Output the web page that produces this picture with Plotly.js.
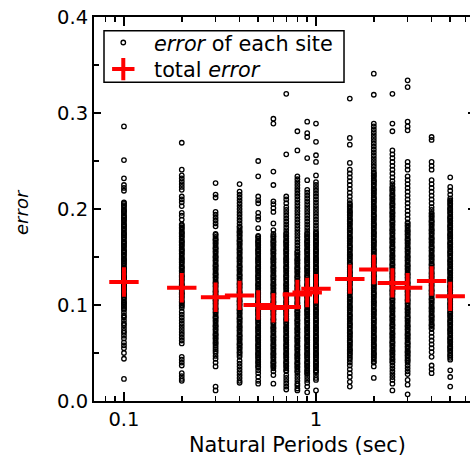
<!DOCTYPE html>
<html>
<head>
<meta charset="utf-8">
<script src="https://cdn.plot.ly/plotly-3.0.1.min.js"></script>
<style>
html,body{margin:0;padding:0;overflow:hidden;background:#fff;}
#chart{width:477px;height:459px;}
</style>
</head>
<body>
<div id="chart"></div>
<script>
// ---- DATA ----
const periods = [0.1, 0.2, 0.3, 0.4, 0.5, 0.6, 0.7, 0.8, 0.9, 1.0, 1.5, 2.0, 2.5, 3.0, 4.0, 5.0];
const totalError = [0.124, 0.118, 0.108, 0.110, 0.100, 0.097, 0.098, 0.111, 0.113, 0.117, 0.127, 0.137, 0.123, 0.118, 0.125, 0.109];

const site_p010 = [0.286,0.251,0.232,0.225,0.222,0.219,0.207,0.206,0.204,0.203,0.201,0.199,0.198,0.197,0.195,0.193,0.192,0.191,0.189,0.188,0.186,0.184,0.183,0.182,0.180,0.179,0.177,0.175,0.174,0.173,0.171,0.170,0.168,0.166,0.165,0.164,0.162,0.161,0.159,0.157,0.156,0.155,0.153,0.152,0.150,0.148,0.147,0.146,0.144,0.143,0.141,0.139,0.138,0.137,0.135,0.134,0.132,0.130,0.129,0.128,0.126,0.125,0.123,0.121,0.120,0.119,0.117,0.116,0.114,0.112,0.111,0.110,0.108,0.107,0.105,0.103,0.102,0.101,0.099,0.098,0.096,0.095,0.092,0.089,0.087,0.084,0.081,0.079,0.076,0.073,0.071,0.068,0.065,0.061,0.058,0.055,0.050,0.044,0.023];
const site_p020 = [0.269,0.241,0.235,0.232,0.229,0.226,0.223,0.220,0.213,0.210,0.207,0.203,0.196,0.193,0.189,0.184,0.183,0.181,0.180,0.178,0.176,0.175,0.174,0.172,0.171,0.169,0.167,0.166,0.165,0.163,0.162,0.160,0.158,0.157,0.156,0.154,0.153,0.151,0.149,0.148,0.147,0.145,0.144,0.142,0.140,0.139,0.138,0.136,0.135,0.133,0.131,0.130,0.129,0.127,0.126,0.124,0.122,0.121,0.120,0.118,0.117,0.115,0.113,0.112,0.111,0.109,0.108,0.106,0.104,0.103,0.102,0.100,0.099,0.097,0.093,0.090,0.087,0.084,0.081,0.078,0.075,0.072,0.069,0.066,0.063,0.060,0.046,0.043,0.040,0.037,0.029,0.026,0.023,0.021];
const site_p030 = [0.227,0.215,0.212,0.197,0.194,0.191,0.188,0.185,0.182,0.174,0.173,0.171,0.169,0.168,0.167,0.165,0.164,0.162,0.160,0.159,0.158,0.156,0.155,0.153,0.151,0.150,0.149,0.147,0.146,0.144,0.142,0.141,0.140,0.138,0.137,0.135,0.133,0.132,0.131,0.129,0.128,0.126,0.124,0.123,0.122,0.120,0.119,0.117,0.115,0.114,0.113,0.111,0.110,0.108,0.106,0.105,0.104,0.102,0.101,0.099,0.097,0.096,0.095,0.093,0.092,0.090,0.088,0.087,0.086,0.084,0.083,0.081,0.079,0.078,0.077,0.075,0.074,0.072,0.070,0.069,0.068,0.066,0.065,0.063,0.061,0.060,0.058,0.056,0.054,0.052,0.050,0.047,0.044,0.040,0.036,0.015,0.011];
const site_p040 = [0.226,0.218,0.215,0.212,0.209,0.206,0.203,0.200,0.197,0.194,0.191,0.188,0.185,0.182,0.181,0.179,0.177,0.176,0.175,0.173,0.172,0.170,0.168,0.167,0.166,0.164,0.163,0.161,0.159,0.158,0.157,0.155,0.154,0.152,0.150,0.149,0.148,0.146,0.145,0.143,0.141,0.140,0.139,0.137,0.136,0.134,0.132,0.131,0.130,0.128,0.127,0.125,0.123,0.122,0.121,0.119,0.118,0.116,0.114,0.113,0.112,0.110,0.109,0.107,0.105,0.104,0.103,0.101,0.100,0.098,0.096,0.095,0.094,0.092,0.091,0.089,0.087,0.086,0.085,0.083,0.082,0.080,0.078,0.077,0.076,0.074,0.073,0.071,0.069,0.068,0.067,0.065,0.064,0.062,0.060,0.059,0.058,0.056,0.055,0.053,0.051,0.050,0.048,0.046,0.042,0.039,0.036,0.033,0.030,0.027,0.024,0.021,0.019];
const site_p050 = [0.250,0.234,0.213,0.209,0.206,0.196,0.192,0.189,0.180,0.172,0.171,0.169,0.167,0.166,0.165,0.163,0.162,0.160,0.158,0.157,0.156,0.154,0.153,0.151,0.149,0.148,0.147,0.145,0.144,0.142,0.140,0.139,0.138,0.136,0.135,0.133,0.131,0.130,0.129,0.127,0.126,0.124,0.122,0.121,0.120,0.118,0.117,0.115,0.113,0.112,0.111,0.109,0.108,0.106,0.104,0.103,0.102,0.100,0.099,0.097,0.095,0.094,0.093,0.091,0.090,0.088,0.086,0.085,0.084,0.082,0.081,0.079,0.077,0.076,0.075,0.073,0.072,0.070,0.068,0.067,0.066,0.064,0.063,0.061,0.059,0.058,0.057,0.055,0.054,0.052,0.050,0.049,0.048,0.046,0.045,0.043,0.041,0.040,0.038,0.036,0.035,0.032,0.029,0.025,0.021,0.018];
const site_p060 = [0.294,0.289,0.239,0.225,0.208,0.205,0.201,0.197,0.185,0.178,0.174,0.172,0.171,0.169,0.167,0.166,0.165,0.163,0.162,0.160,0.158,0.157,0.156,0.154,0.153,0.151,0.149,0.148,0.147,0.145,0.144,0.142,0.140,0.139,0.138,0.136,0.135,0.133,0.131,0.130,0.129,0.127,0.126,0.124,0.122,0.121,0.120,0.118,0.117,0.115,0.113,0.112,0.111,0.109,0.108,0.106,0.104,0.103,0.102,0.100,0.099,0.097,0.095,0.094,0.093,0.091,0.090,0.088,0.086,0.085,0.084,0.082,0.081,0.079,0.077,0.076,0.075,0.073,0.072,0.070,0.068,0.067,0.066,0.064,0.063,0.061,0.059,0.058,0.057,0.055,0.054,0.052,0.050,0.049,0.048,0.046,0.045,0.043,0.041,0.040,0.039,0.037,0.036,0.034,0.031,0.027,0.018];
const site_p070 = [0.320,0.257,0.213,0.210,0.206,0.202,0.199,0.196,0.193,0.190,0.187,0.184,0.181,0.178,0.175,0.174,0.172,0.171,0.169,0.167,0.166,0.165,0.163,0.162,0.160,0.158,0.157,0.156,0.154,0.153,0.151,0.149,0.148,0.147,0.145,0.144,0.142,0.140,0.139,0.138,0.136,0.135,0.133,0.131,0.130,0.129,0.127,0.126,0.124,0.122,0.121,0.120,0.118,0.117,0.115,0.113,0.112,0.111,0.109,0.108,0.106,0.104,0.103,0.102,0.100,0.099,0.097,0.095,0.094,0.093,0.091,0.090,0.088,0.086,0.085,0.084,0.082,0.081,0.079,0.077,0.076,0.075,0.073,0.072,0.070,0.068,0.067,0.066,0.064,0.063,0.061,0.059,0.058,0.057,0.055,0.054,0.052,0.050,0.049,0.048,0.046,0.045,0.043,0.041,0.040,0.039,0.037,0.036,0.034,0.032,0.031,0.027,0.024,0.021,0.018,0.015,0.012];
const site_p080 = [0.281,0.261,0.234,0.231,0.228,0.225,0.222,0.219,0.216,0.213,0.210,0.207,0.204,0.201,0.198,0.195,0.192,0.189,0.186,0.183,0.180,0.177,0.174,0.171,0.168,0.165,0.162,0.159,0.156,0.155,0.153,0.152,0.150,0.148,0.147,0.146,0.144,0.143,0.141,0.139,0.138,0.137,0.135,0.134,0.132,0.130,0.129,0.128,0.126,0.125,0.123,0.121,0.120,0.119,0.117,0.116,0.114,0.112,0.111,0.110,0.108,0.107,0.105,0.103,0.102,0.101,0.099,0.098,0.096,0.094,0.093,0.092,0.090,0.089,0.087,0.085,0.084,0.083,0.081,0.080,0.078,0.076,0.075,0.074,0.072,0.071,0.069,0.067,0.066,0.065,0.063,0.062,0.060,0.058,0.057,0.056,0.054,0.053,0.051,0.049,0.048,0.047,0.045,0.044,0.042,0.040,0.039,0.038,0.036,0.035,0.033,0.031,0.030,0.027,0.024,0.021,0.018,0.016,0.013,0.011];
const site_p090 = [0.291,0.279,0.275,0.253,0.230,0.220,0.217,0.214,0.211,0.208,0.205,0.202,0.199,0.196,0.193,0.190,0.187,0.184,0.181,0.178,0.175,0.174,0.172,0.171,0.169,0.167,0.166,0.165,0.163,0.162,0.160,0.158,0.157,0.156,0.154,0.153,0.151,0.149,0.148,0.147,0.145,0.144,0.142,0.140,0.139,0.138,0.136,0.135,0.133,0.131,0.130,0.129,0.127,0.126,0.124,0.122,0.121,0.120,0.118,0.117,0.115,0.113,0.112,0.111,0.109,0.108,0.106,0.104,0.103,0.102,0.100,0.099,0.097,0.095,0.094,0.093,0.091,0.090,0.088,0.086,0.085,0.084,0.082,0.081,0.079,0.077,0.076,0.075,0.073,0.072,0.070,0.068,0.067,0.066,0.064,0.063,0.061,0.059,0.058,0.057,0.055,0.054,0.052,0.050,0.049,0.048,0.046,0.045,0.043,0.041,0.040,0.039,0.037,0.036,0.034,0.032,0.031,0.029,0.028,0.025,0.022,0.019,0.015,0.009];
const site_p100 = [0.289,0.270,0.256,0.249,0.235,0.228,0.225,0.222,0.219,0.216,0.213,0.210,0.207,0.204,0.201,0.198,0.195,0.192,0.189,0.186,0.183,0.180,0.177,0.175,0.174,0.172,0.171,0.169,0.167,0.166,0.165,0.163,0.162,0.160,0.158,0.157,0.156,0.154,0.153,0.151,0.149,0.148,0.147,0.145,0.144,0.142,0.140,0.139,0.138,0.136,0.135,0.133,0.131,0.130,0.129,0.127,0.126,0.124,0.122,0.121,0.120,0.118,0.117,0.115,0.113,0.112,0.111,0.109,0.108,0.106,0.104,0.103,0.102,0.100,0.099,0.097,0.095,0.094,0.093,0.091,0.090,0.088,0.086,0.085,0.084,0.082,0.081,0.079,0.077,0.076,0.075,0.073,0.072,0.070,0.068,0.067,0.066,0.064,0.063,0.061,0.059,0.058,0.057,0.055,0.054,0.052,0.050,0.049,0.048,0.046,0.045,0.043,0.041,0.040,0.039,0.037,0.036,0.034,0.032,0.031,0.030,0.027,0.024,0.022,0.011];
const site_p150 = [0.315,0.274,0.267,0.248,0.241,0.237,0.233,0.229,0.225,0.221,0.217,0.213,0.209,0.206,0.205,0.203,0.202,0.200,0.198,0.197,0.196,0.194,0.193,0.191,0.189,0.188,0.187,0.185,0.184,0.182,0.180,0.179,0.178,0.176,0.175,0.173,0.171,0.170,0.169,0.167,0.166,0.164,0.162,0.161,0.160,0.158,0.157,0.155,0.153,0.152,0.151,0.149,0.148,0.146,0.144,0.143,0.142,0.140,0.139,0.137,0.135,0.134,0.133,0.131,0.130,0.128,0.126,0.125,0.124,0.122,0.121,0.119,0.117,0.116,0.115,0.113,0.112,0.110,0.108,0.107,0.106,0.104,0.103,0.101,0.099,0.098,0.097,0.095,0.094,0.092,0.090,0.089,0.088,0.086,0.085,0.083,0.081,0.080,0.079,0.077,0.076,0.074,0.072,0.071,0.070,0.068,0.067,0.065,0.063,0.062,0.061,0.059,0.058,0.056,0.054,0.053,0.052,0.050,0.049,0.047,0.045,0.043,0.040,0.037,0.033,0.029,0.025,0.020,0.015];
const site_p200 = [0.341,0.319,0.289,0.286,0.283,0.280,0.277,0.274,0.271,0.268,0.265,0.262,0.259,0.256,0.253,0.250,0.247,0.244,0.241,0.238,0.237,0.235,0.234,0.232,0.230,0.229,0.228,0.226,0.225,0.223,0.221,0.220,0.219,0.217,0.216,0.214,0.212,0.211,0.210,0.208,0.207,0.205,0.203,0.202,0.201,0.199,0.198,0.196,0.194,0.193,0.192,0.190,0.189,0.187,0.185,0.184,0.183,0.181,0.180,0.178,0.176,0.175,0.174,0.172,0.171,0.169,0.167,0.166,0.165,0.163,0.162,0.160,0.158,0.157,0.156,0.154,0.153,0.151,0.149,0.148,0.147,0.145,0.144,0.142,0.140,0.139,0.138,0.136,0.135,0.133,0.131,0.130,0.129,0.127,0.126,0.124,0.122,0.121,0.120,0.118,0.117,0.115,0.113,0.112,0.111,0.109,0.108,0.106,0.104,0.103,0.102,0.100,0.099,0.097,0.095,0.094,0.093,0.091,0.090,0.088,0.086,0.085,0.084,0.082,0.081,0.079,0.077,0.076,0.075,0.073,0.072,0.070,0.068,0.067,0.066,0.064,0.063,0.061,0.059,0.058,0.057,0.055,0.054,0.052,0.050,0.049,0.048,0.046,0.045,0.043,0.041,0.040,0.036,0.024];
const site_p250 = [0.320,0.289,0.281,0.261,0.257,0.253,0.249,0.245,0.241,0.237,0.233,0.229,0.226,0.223,0.222,0.220,0.219,0.217,0.215,0.214,0.213,0.211,0.210,0.208,0.206,0.205,0.204,0.202,0.201,0.199,0.197,0.196,0.195,0.193,0.192,0.190,0.188,0.187,0.186,0.184,0.183,0.181,0.179,0.178,0.177,0.175,0.174,0.172,0.170,0.169,0.168,0.166,0.165,0.163,0.161,0.160,0.159,0.157,0.156,0.154,0.152,0.151,0.150,0.148,0.147,0.145,0.143,0.142,0.141,0.139,0.138,0.136,0.134,0.133,0.132,0.130,0.129,0.127,0.125,0.124,0.123,0.121,0.120,0.118,0.116,0.115,0.114,0.112,0.111,0.109,0.107,0.106,0.105,0.103,0.102,0.100,0.098,0.097,0.096,0.094,0.093,0.091,0.089,0.088,0.087,0.085,0.084,0.082,0.080,0.079,0.078,0.076,0.075,0.073,0.071,0.070,0.069,0.067,0.066,0.064,0.062,0.061,0.060,0.058,0.057,0.055,0.053,0.052,0.051,0.049,0.048,0.046,0.044,0.043,0.041,0.040,0.037,0.034,0.031,0.028,0.025,0.022,0.018,0.011];
const site_p300 = [0.334,0.327,0.291,0.286,0.282,0.249,0.245,0.241,0.234,0.230,0.226,0.222,0.218,0.214,0.210,0.206,0.202,0.198,0.194,0.190,0.186,0.185,0.183,0.182,0.180,0.178,0.177,0.176,0.174,0.173,0.171,0.169,0.168,0.167,0.165,0.164,0.162,0.160,0.159,0.158,0.156,0.155,0.153,0.151,0.150,0.149,0.147,0.146,0.144,0.142,0.141,0.140,0.138,0.137,0.135,0.133,0.132,0.131,0.129,0.128,0.126,0.124,0.123,0.122,0.120,0.119,0.117,0.115,0.114,0.113,0.111,0.110,0.108,0.106,0.105,0.104,0.102,0.101,0.099,0.097,0.096,0.095,0.093,0.092,0.090,0.088,0.087,0.086,0.084,0.083,0.081,0.079,0.078,0.077,0.075,0.074,0.072,0.070,0.069,0.068,0.066,0.065,0.063,0.061,0.060,0.059,0.057,0.056,0.054,0.052,0.051,0.050,0.048,0.047,0.045,0.043,0.042,0.040,0.037,0.034,0.031,0.028,0.022,0.017,0.007];
const site_p400 = [0.275,0.272,0.249,0.245,0.241,0.230,0.226,0.222,0.218,0.214,0.210,0.206,0.202,0.199,0.196,0.195,0.193,0.192,0.190,0.188,0.187,0.186,0.184,0.183,0.181,0.179,0.178,0.177,0.175,0.174,0.172,0.170,0.169,0.168,0.166,0.165,0.163,0.161,0.160,0.159,0.157,0.156,0.154,0.152,0.151,0.150,0.148,0.147,0.145,0.143,0.142,0.141,0.139,0.138,0.136,0.134,0.133,0.132,0.130,0.129,0.127,0.125,0.124,0.123,0.121,0.120,0.118,0.116,0.115,0.114,0.112,0.111,0.109,0.107,0.106,0.105,0.103,0.102,0.100,0.098,0.097,0.096,0.094,0.093,0.091,0.089,0.088,0.087,0.085,0.084,0.082,0.080,0.079,0.078,0.076,0.075,0.071,0.067,0.063,0.059,0.055,0.051,0.046,0.037,0.033,0.029];
const site_p500 = [0.233,0.223,0.219,0.215,0.211,0.209,0.208,0.206,0.205,0.203,0.201,0.200,0.199,0.197,0.196,0.194,0.192,0.191,0.190,0.188,0.187,0.185,0.183,0.182,0.181,0.179,0.178,0.176,0.174,0.173,0.172,0.170,0.169,0.167,0.165,0.164,0.163,0.161,0.160,0.158,0.156,0.155,0.154,0.152,0.151,0.149,0.147,0.146,0.145,0.143,0.142,0.140,0.138,0.137,0.136,0.134,0.133,0.131,0.129,0.128,0.127,0.125,0.124,0.122,0.120,0.119,0.118,0.116,0.115,0.113,0.111,0.110,0.109,0.107,0.106,0.104,0.102,0.101,0.100,0.098,0.097,0.095,0.093,0.092,0.091,0.089,0.088,0.086,0.084,0.083,0.082,0.080,0.079,0.077,0.075,0.074,0.073,0.071,0.070,0.068,0.066,0.065,0.064,0.062,0.061,0.059,0.057,0.056,0.055,0.053,0.052,0.050,0.048,0.047,0.045,0.043,0.032,0.025,0.015];

const siteErrors = [site_p010, site_p020, site_p030, site_p040, site_p050, site_p060, site_p070, site_p080, site_p090, site_p100, site_p150, site_p200, site_p250, site_p300, site_p400, site_p500];

const xMajorTicks = [0.1, 1];
const xMajorLabels = ['0.1', '1'];
const xMinorTicks = [0.08, 0.09, 0.2, 0.3, 0.4, 0.5, 0.6, 0.7, 0.8, 0.9, 2, 3, 4, 5, 6];
const seriesNames = ['<i>error</i> of each site', 'total <i>error</i>'];
const xTitle = 'Natural Periods (sec)';
const yTitle = '<i>error</i>';

// ---- BUILD ----
const sx = [], sy = [];
siteErrors.forEach((arr, i) => arr.forEach(v => { sx.push(periods[i]); sy.push(v); }));

const font = 'DejaVu Sans, Verdana, sans-serif';
const tickFont = {family: font, size: 19.5, color: 'black'};

const traces = [
  {
    x: sx, y: sy, type: 'scatter', mode: 'markers',
    name: seriesNames[0], legend: 'legend',
    marker: {symbol: 'circle-open', size: 4.5, color: 'black', line: {width: 1.3, color: 'black'}},
    hoverinfo: 'skip'
  },
  {
    x: periods, y: totalError, type: 'scatter', mode: 'markers',
    name: seriesNames[1], legend: 'legend2',
    marker: {symbol: 'cross-thin-open', size: 21, color: 'red', line: {width: 4, color: 'red'}}
  }
];

const legendCommon = {
  xanchor: 'left', yanchor: 'top', bgcolor: 'rgba(0,0,0,0)', borderwidth: 0,
  font: {family: font, size: 20.8, color: 'black'}, itemwidth: 51.4
};

const layout = {
  width: 477, height: 459,
  margin: {l: 94, r: 2, t: 17, b: 58},
  paper_bgcolor: 'white', plot_bgcolor: 'white',
  font: {family: font, size: 19, color: 'black'},
  showlegend: true,
  legend: Object.assign({x: -0.0037, y: 0.9857}, legendCommon),
  legend2: Object.assign({x: -0.0037, y: 0.9164}, legendCommon),
  shapes: [{
    type: 'rect', xref: 'paper', yref: 'paper',
    x0: 0.02625, x1: 0.6562, y0: 0.8299, y1: 0.9643,
    line: {color: 'black', width: 1.5}, fillcolor: 'white', layer: 'above'
  }],
  annotations: [
    {text: xTitle, xref: 'paper', yref: 'paper', x: 0.5346, y: -0.1146, xanchor: 'center', yanchor: 'middle',
     showarrow: false, font: {family: font, size: 20.8, color: 'black'}},
    {text: yTitle, xref: 'paper', yref: 'paper', x: -0.1908, y: 0.493, xanchor: 'center', yanchor: 'middle',
     textangle: -90, showarrow: false, font: {family: font, size: 18, color: 'black'}}
  ],
  xaxis: {
    type: 'log', range: [-1.156, 0.828],
    tickmode: 'array', tickvals: xMajorTicks, ticktext: xMajorLabels,
    ticks: 'inside', ticklen: 9, tickwidth: 1.5, tickcolor: 'black',
    minor: {tickmode: 'array', tickvals: xMinorTicks, ticks: 'inside', ticklen: 5, tickwidth: 1.5, tickcolor: 'black', showgrid: false},
    showline: true, linewidth: 2, linecolor: 'black', mirror: 'ticks',
    showgrid: false, zeroline: false, tickfont: tickFont
  },
  yaxis: {
    range: [0, 0.4], dtick: 0.1, tick0: 0, tickformat: '.1f',
    ticks: 'inside', ticklen: 7, tickwidth: 1.5, tickcolor: 'black',
    minor: {dtick: 0.05, ticks: 'inside', ticklen: 5, tickwidth: 1.5, tickcolor: 'black', showgrid: false},
    showline: true, linewidth: 2, linecolor: 'black', mirror: 'ticks',
    showgrid: false, zeroline: false, tickfont: tickFont
  }
};

Plotly.newPlot('chart', traces, layout, {displayModeBar: false, staticPlot: true});
</script>
</body>
</html>
